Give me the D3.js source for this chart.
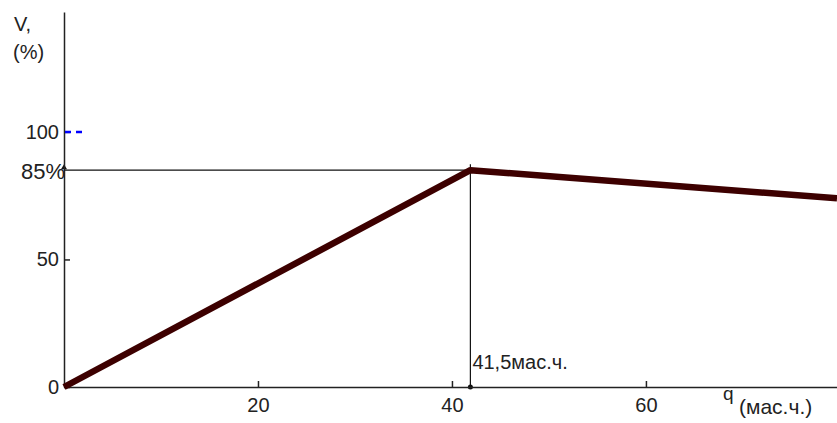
<!DOCTYPE html>
<html>
<head>
<meta charset="utf-8">
<script src="https://cdn.jsdelivr.net/npm/d3@7"></script>
<style>
  body { margin: 0; background: #fff; }
  svg { display: block; }
  text { font-family: 'Liberation Sans', Arial, sans-serif; fill: #222; }
</style>
</head>
<body>
<svg id="chart" width="837" height="423"></svg>
<script>
// curve V(q): rise to the peak, then a slow fall
const qValues = [0, 41.9, 79.7];
const vValues = [0, 85, 74];
const xTicks = [20, 40, 60];
const yTicks = [0, 50, 100];
const peakQ = 41.9;
const peakV = 85;
const peakLabel = '41,5мас.ч.';
const peakVLabel = '85%';
const blueMark = [0, 2.1]; // small dashed blue mark at V = 100
const blueMarkV = 100;

const width = 837;
const height = 423;
const paddingLeft = 64;
const paddingRight = 0;
const paddingTop = 12;
const paddingBottom = 36;
const fontSize = 20;

function generateXScale() {
  return d3.scaleLinear()
    .domain([0, 79.7])
    .range([paddingLeft, width - paddingRight]);
}

function generateYScale() {
  return d3.scaleLinear()
    .domain([0, 147])
    .range([height - paddingBottom, paddingTop]);
}

function drawXAxis(svg, xScale) {
  const xAxis = d3.axisBottom(xScale)
    .tickValues(xTicks)
    .tickSizeInner(-6)
    .tickSizeOuter(0)
    .tickPadding(11);
  const g = svg.append('g')
    .attr('class', 'xAxis')
    .attr('transform', `translate(0, ${height - paddingBottom})`)
    .call(xAxis);
  g.select('.domain').attr('stroke', '#222').attr('stroke-width', 1.5);
  g.selectAll('.tick line').attr('stroke', '#222').attr('stroke-width', 1.5);
  g.selectAll('text')
    .attr('font-size', fontSize)
    .attr('font-family', 'Liberation Sans, Arial, sans-serif')
    .attr('fill', '#222');
}

function drawYAxis(svg, yScale) {
  const yAxis = d3.axisLeft(yScale)
    .tickValues(yTicks)
    .tickSizeInner(-6)
    .tickSizeOuter(0)
    .tickPadding(5);
  const g = svg.append('g')
    .attr('class', 'yAxis')
    .attr('transform', `translate(${paddingLeft}, 0)`)
    .call(yAxis);
  g.select('.domain').attr('stroke', '#222').attr('stroke-width', 1.5);
  g.selectAll('.tick line').attr('stroke', '#222').attr('stroke-width', 1.5);
  g.selectAll('text')
    .attr('font-size', fontSize)
    .attr('font-family', 'Liberation Sans, Arial, sans-serif')
    .attr('fill', '#222');
}

function drawGuides(svg, xScale, yScale) {
  const px = xScale(peakQ);
  const py = yScale(peakV);
  svg.append('line')
    .attr('x1', xScale(0)).attr('x2', px + 2)
    .attr('y1', py).attr('y2', py)
    .attr('stroke', '#111').attr('stroke-width', 1.2);
  svg.append('line')
    .attr('x1', px).attr('x2', px)
    .attr('y1', py - 6).attr('y2', yScale(0))
    .attr('stroke', '#111').attr('stroke-width', 1.2);
  // small markers where the guides meet the axes
  svg.append('path')
    .attr('d', `M${xScale(0) - 3},${py - 1} L${xScale(0)},${py - 6} L${xScale(0) + 3},${py - 1} Z`)
    .attr('fill', '#111');
  svg.append('circle')
    .attr('cx', px).attr('cy', yScale(0)).attr('r', 2.5)
    .attr('fill', '#111');
}

function drawBlueMark(svg, xScale, yScale) {
  svg.append('line')
    .attr('x1', xScale(blueMark[0]) + 1).attr('x2', xScale(blueMark[1]))
    .attr('y1', yScale(blueMarkV)).attr('y2', yScale(blueMarkV))
    .attr('stroke', '#0000ff').attr('stroke-width', 2.5)
    .attr('stroke-dasharray', '6,5');
}

function drawCurve(svg, xScale, yScale) {
  const pts = qValues.map((q, i) => [xScale(q), yScale(vValues[i])]);
  svg.append('path')
    .attr('d', d3.line()(pts))
    .attr('fill', 'none')
    .attr('stroke', '#3d0000')
    .attr('stroke-width', 6.5)
    .attr('stroke-linejoin', 'round');
}

function drawLabels(svg, xScale, yScale) {
  svg.append('text').attr('x', 14).attr('y', 31)
    .attr('font-size', fontSize).text('V,');
  svg.append('text').attr('x', 13).attr('y', 59)
    .attr('font-size', fontSize).text('(%)');
  svg.append('text').attr('x', xScale(0) + 1).attr('y', yScale(peakV) + 9)
    .attr('text-anchor', 'end')
    .attr('font-size', 22).text(peakVLabel);
  svg.append('text').attr('x', xScale(peakQ) + 2).attr('y', yScale(0) - 18)
    .attr('font-size', fontSize).text(peakLabel);
  svg.append('text').attr('x', 723).attr('y', 400)
    .attr('font-size', 19).text('q');
  svg.append('text').attr('x', 739).attr('y', 414)
    .attr('font-size', 21).text('(мас.ч.)');
}

function drawChart() {
  const svg = d3.select('#chart');
  svg.selectAll('*').remove();
  const xScale = generateXScale();
  const yScale = generateYScale();
  drawGuides(svg, xScale, yScale);
  drawXAxis(svg, xScale);
  drawYAxis(svg, yScale);
  drawBlueMark(svg, xScale, yScale);
  drawCurve(svg, xScale, yScale);
  drawLabels(svg, xScale, yScale);
}

drawChart();
</script>
</body>
</html>
